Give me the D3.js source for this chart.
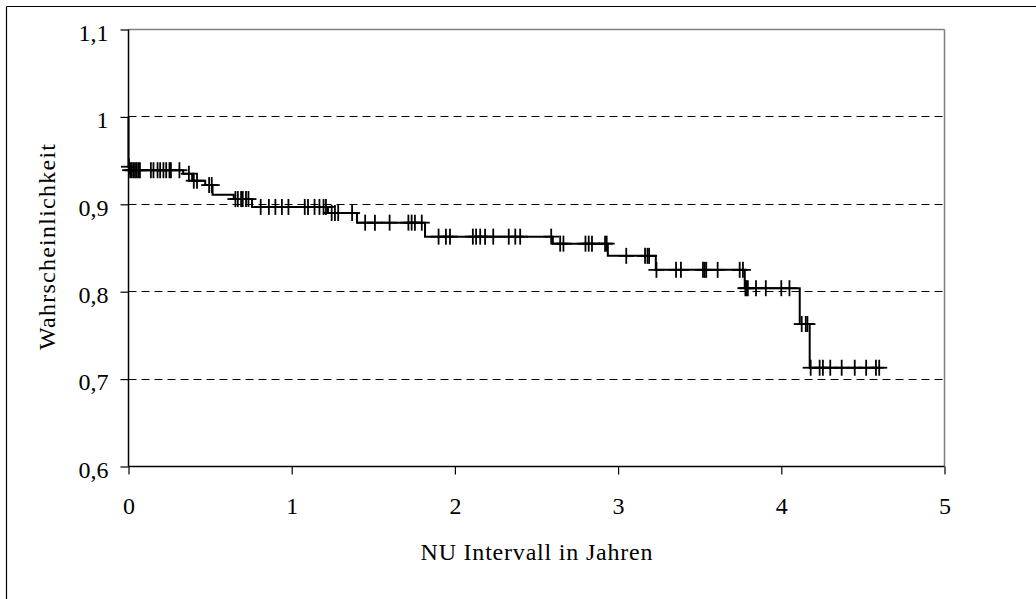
<!DOCTYPE html>
<html>
<head>
<meta charset="utf-8">
<script src="https://cdn.jsdelivr.net/npm/d3@7"></script>
<style>
  html, body { margin: 0; padding: 0; background: #fff; }
  svg { display: block; }
  text { font-family: "Liberation Serif", "Times New Roman", serif; fill: #000; }
</style>
</head>
<body>
<svg id="chart" width="1036" height="599"></svg>
<script>
// Step function (Kaplan-Meier): time of each step and survival level after it
const stepTimes = [0, 0, 0.005, 0.335, 0.39, 0.47, 0.515, 0.645, 0.757, 1.222, 1.40, 1.817, 2.60, 2.937, 3.231, 3.776, 4.113, 4.174];
const stepSurv  = [1.0, 0.943, 0.939, 0.935, 0.927, 0.922, 0.911, 0.906, 0.897, 0.890, 0.879, 0.863, 0.855, 0.841, 0.825, 0.804, 0.763, 0.713];
const endTime = 4.60;

// Censored observations (time in years)
const censorTimes = [
  0.003,
  0.01, 0.02, 0.03, 0.04, 0.05, 0.06, 0.07, 0.137, 0.153, 0.178, 0.194, 0.214, 0.231, 0.251, 0.26, 0.312,
  0.37,
  0.40, 0.42,
  0.494, 0.51,
  0.655, 0.67, 0.69, 0.70, 0.72, 0.735,
  0.81, 0.86, 0.90, 0.94, 0.98, 1.08, 1.10, 1.14, 1.17, 1.195, 1.21,
  1.245, 1.265, 1.285, 1.37,
  1.45, 1.51, 1.60, 1.715, 1.735, 1.755, 1.797,
  1.90, 1.945, 1.97, 2.11, 2.13, 2.155, 2.185, 2.235, 2.33, 2.37, 2.40, 2.59,
  2.645, 2.665, 2.80, 2.82, 2.84, 2.92, 2.93,
  3.05, 3.165, 3.18, 3.19,
  3.235, 3.355, 3.385, 3.52, 3.53, 3.54, 3.61, 3.745, 3.765,
  3.78, 3.785, 3.795, 3.845, 3.905, 4.00, 4.05,
  4.125, 4.15, 4.16,
  4.18, 4.235, 4.255, 4.30, 4.37, 4.45, 4.52, 4.58, 4.60
];

const xTicks = [0, 1, 2, 3, 4, 5];
const yTicks = [0.6, 0.7, 0.8, 0.9, 1.0, 1.1];
const yGrid = [0.7, 0.8, 0.9, 1.0];
const xTitle = "NU Intervall in Jahren";
const yTitle = "Wahrscheinlichkeit";

const svg = d3.select("#chart");
const L = 128.5, R = 944.5, T = 29.5, B = 466.5;

const x = d3.scaleLinear().domain([0, 5]).range([L, R]);
const y = d3.scaleLinear().domain([0.6, 1.1]).range([B, T]);
const crisp = v => Math.round(v - 0.5) + 0.5;

// Outer frame (left and top edges visible)
svg.append("line").attr("x1", 6.5).attr("x2", 6.5).attr("y1", 6.5).attr("y2", 599)
  .attr("stroke", "#000").attr("stroke-width", 1.2);
svg.append("line").attr("x1", 6.5).attr("x2", 1036).attr("y1", 6.5).attr("y2", 6.5)
  .attr("stroke", "#000").attr("stroke-width", 1.2);

// Gridlines
svg.append("g").selectAll("line").data(yGrid).join("line")
  .attr("x1", L).attr("x2", R)
  .attr("y1", d => crisp(y(d))).attr("y2", d => crisp(y(d)))
  .attr("stroke", "#000").attr("stroke-width", 1)
  .attr("stroke-dasharray", "8,5");

// Plot border top/right (gray)
svg.append("line").attr("x1", L).attr("x2", R).attr("y1", T).attr("y2", T)
  .attr("stroke", "#808080").attr("stroke-width", 1.5);
svg.append("line").attr("x1", R).attr("x2", R).attr("y1", T).attr("y2", B)
  .attr("stroke", "#808080").attr("stroke-width", 1.5);

// Axes
const fmt = d => d3.format(".1~f")(d).replace(".", ",");
const yAxis = d3.axisLeft(y).tickValues(yTicks).tickFormat(fmt).tickSize(8).tickPadding(12);
const xAxis = d3.axisBottom(x).tickValues(xTicks).tickFormat(d3.format("d")).tickSize(8).tickPadding(22);

const gy = svg.append("g").attr("transform", `translate(${L},0)`).call(yAxis);
const gx = svg.append("g").attr("transform", `translate(0,${B})`).call(xAxis);
[gx, gy].forEach(g => {
  g.select(".domain").attr("stroke", "#000").attr("stroke-width", 1.5);
  g.selectAll(".tick line").attr("stroke", "#000").attr("stroke-width", 1.2);
  g.selectAll(".tick text").attr("font-size", "24px")
    .attr("font-family", "Liberation Serif, Times New Roman, serif").attr("fill", "#000");
});
gy.selectAll(".tick text").attr("dy", "0.45em");
gx.selectAll(".tick text").attr("dy", "0.71em");
gx.select(".domain").attr("d", `M${L},0H${R}`);
gy.select(".domain").attr("d", `M0,${B}V${T}`);

// Step curve
const pts = stepTimes.map((t, i) => [t, stepSurv[i]]);
pts.push([endTime, stepSurv[stepSurv.length - 1]]);
const line = d3.line().x(d => x(d[0])).y(d => y(d[1])).curve(d3.curveStepAfter);
svg.append("path").attr("d", line(pts)).attr("fill", "none")
  .attr("stroke", "#000").attr("stroke-width", 2);

// Censor marks "+"
const levelAt = t => stepSurv[d3.bisectRight(stepTimes, t) - 1];
const arm = 8;
const cg = svg.append("g").attr("stroke", "#000").attr("stroke-width", 1.8);
censorTimes.forEach(t => {
  const cx = x(t), cy = y(levelAt(t));
  cg.append("line").attr("x1", cx).attr("x2", cx).attr("y1", cy - arm).attr("y2", cy + arm);
  cg.append("line").attr("x1", cx - arm).attr("x2", cx + arm).attr("y1", cy).attr("y2", cy);
});

// Axis titles
svg.append("text").attr("x", (L + R) / 2).attr("y", 560)
  .attr("text-anchor", "middle").attr("font-size", "24px")
  .attr("textLength", 232).attr("lengthAdjust", "spacing").text(xTitle);
svg.append("text").attr("transform", `translate(55,${(T + B) / 2 - 1}) rotate(-90)`)
  .attr("text-anchor", "middle").attr("font-size", "24px")
  .attr("textLength", 206).attr("lengthAdjust", "spacing").text(yTitle);
</script>
</body>
</html>
